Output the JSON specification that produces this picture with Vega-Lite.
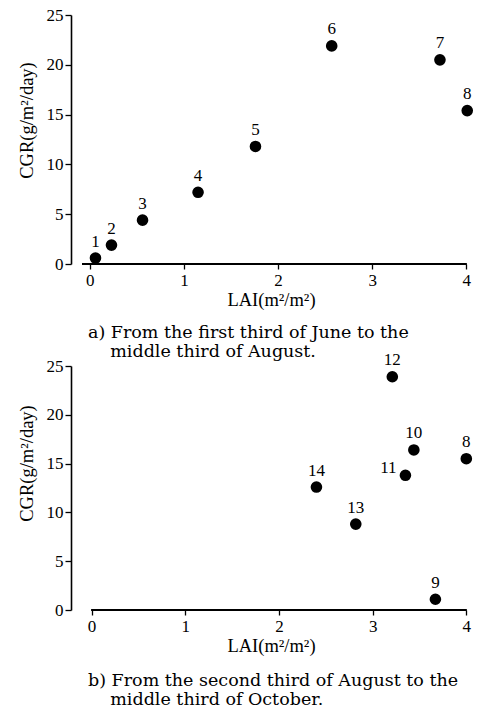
{
  "$schema": "https://vega.github.io/schema/vega-lite/v6.json",
  "padding": {"left": 17, "top": 6, "right": 4, "bottom": 1},
  "background": "white",
  "bounds": "flush",
  "spacing": 102,
  "config": {
    "font": "Liberation Serif",
    "view": {"stroke": null},
    "axis": {"grid": false, "domainColor": "black", "tickColor": "black", "labelColor": "black", "titleColor": "black", "labelFontSize": 17, "titleFontSize": 18.5, "titleFontWeight": "normal", "labelFont": "Liberation Serif", "titleFont": "Liberation Serif", "domainWidth": 1.6, "tickWidth": 1.3, "tickSize": 6, "labelPadding": 2},
    "title": {"font": "DejaVu Serif", "fontSize": 17.5, "fontWeight": "normal", "color": "black"}
  },
  "datasets": {
    "pts": [
      {"panel": "a", "id": "1", "lai": 0.06, "cgr": 0.6},
      {"panel": "a", "id": "2", "lai": 0.23, "cgr": 1.9},
      {"panel": "a", "id": "3", "lai": 0.56, "cgr": 4.4},
      {"panel": "a", "id": "4", "lai": 1.15, "cgr": 7.2},
      {"panel": "a", "id": "5", "lai": 1.76, "cgr": 11.8},
      {"panel": "a", "id": "6", "lai": 2.57, "cgr": 21.9},
      {"panel": "a", "id": "7", "lai": 3.72, "cgr": 20.5},
      {"panel": "a", "id": "8", "lai": 4.01, "cgr": 15.4},
      {"panel": "b", "id": "8", "lai": 4.0, "cgr": 15.5},
      {"panel": "b", "id": "9", "lai": 3.67, "cgr": 1.1},
      {"panel": "b", "id": "10", "lai": 3.44, "cgr": 16.4},
      {"panel": "b", "id": "11", "lai": 3.35, "cgr": 13.8},
      {"panel": "b", "id": "12", "lai": 3.21, "cgr": 23.9},
      {"panel": "b", "id": "13", "lai": 2.82, "cgr": 8.8},
      {"panel": "b", "id": "14", "lai": 2.4, "cgr": 12.6}
    ]
  },
  "vconcat": [
    {
      "width": 400,
      "height": 249,
      "data": {"name": "pts"},
      "transform": [{"filter": "datum.panel == 'a'"}],
      "title": {"text": ["a) From the first third of June to the", "\u200b\u00a0\u00a0\u00a0\u00a0middle third of August."], "orient": "bottom", "anchor": "start", "frame": "group", "dx": 17, "offset": 15, "lineHeight": 19.5},
      "encoding": {
        "x": {"field": "lai", "type": "quantitative", "scale": {"domain": [-0.2, 4.05], "nice": false, "zero": false}, "axis": {"values": [0, 1, 2, 3, 4], "domain": false, "tickSize": 5, "labelPadding": 3, "title": "LAI(m²/m²)", "titlePadding": 2}},
        "y": {"field": "cgr", "type": "quantitative", "scale": {"domain": [0, 25], "nice": false}, "axis": {"values": [0, 5, 10, 15, 20, 25], "title": "CGR(g/m²/day)", "titlePadding": 10, "titleY": 105}}
      },
      "layer": [
        {"mark": {"type": "rule", "color": "black", "strokeWidth": 1.6}, "encoding": {"x": {"datum": -0.08}, "x2": {"datum": 4}, "y": {"datum": 0}}},
        {"mark": {"type": "point", "filled": true, "shape": "circle", "size": 135, "color": "black", "opacity": 1, "clip": false}},
        {"mark": {"type": "text", "dy": -16.5, "fontSize": 17, "color": "black", "font": "Liberation Serif"}, "encoding": {"text": {"field": "id"}}}
      ]
    },
    {
      "width": 400,
      "height": 244,
      "data": {"name": "pts"},
      "transform": [{"filter": "datum.panel == 'b'"}],
      "title": {"text": ["b) From the second third of August to the", "\u200b\u00a0\u00a0\u00a0\u00a0middle third of October."], "orient": "bottom", "anchor": "start", "frame": "group", "dx": 17, "offset": 17, "lineHeight": 19},
      "encoding": {
        "x": {"field": "lai", "type": "quantitative", "scale": {"domain": [-0.22, 4.05], "nice": false, "zero": false}, "axis": {"values": [0, 1, 2, 3, 4], "domain": false, "tickSize": 5, "labelPadding": 3, "title": "LAI(m²/m²)", "titlePadding": 2}},
        "y": {"field": "cgr", "type": "quantitative", "scale": {"domain": [0, 25], "nice": false}, "axis": {"values": [0, 5, 10, 15, 20, 25], "title": "CGR(g/m²/day)", "titlePadding": 10, "titleY": 97}}
      },
      "layer": [
        {"mark": {"type": "rule", "color": "black", "strokeWidth": 1.6}, "encoding": {"x": {"datum": 0}, "x2": {"datum": 4}, "y": {"datum": 0}}},
        {"mark": {"type": "point", "filled": true, "shape": "circle", "size": 135, "color": "black", "opacity": 1, "clip": false}},
        {"transform": [{"filter": "datum.id != '11'"}], "mark": {"type": "text", "dy": -16.5, "fontSize": 17, "color": "black", "font": "Liberation Serif"}, "encoding": {"text": {"field": "id"}}},
        {"transform": [{"filter": "datum.id == '11'"}], "mark": {"type": "text", "dx": -17, "dy": -7, "fontSize": 17, "color": "black", "font": "Liberation Serif"}, "encoding": {"text": {"field": "id"}}}
      ]
    }
  ]
}
